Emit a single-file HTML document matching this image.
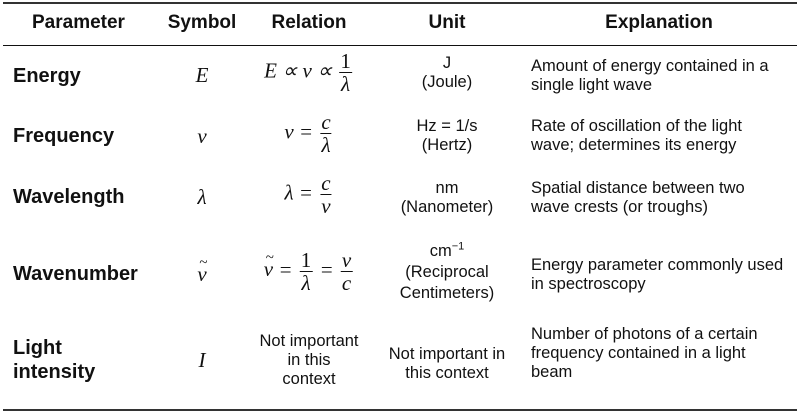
<!DOCTYPE html>
<html><head><meta charset="utf-8"><style>
body{margin:0;width:800px;height:413px;background:#fff;position:relative;font-family:"Liberation Sans",sans-serif;color:#111;overflow:hidden}
.a{position:absolute}
.h{font-weight:bold;font-size:19px;top:12px}
.p{font-weight:bold;font-size:20px;left:13px;line-height:24px}
.t{font-size:16.5px;line-height:19px}
.c{text-align:center;transform:translateX(-50%);white-space:nowrap}
.m{font-family:"Liberation Serif",serif;font-style:italic;font-size:21px;white-space:nowrap}
.f{display:inline-block;vertical-align:middle;text-align:center;margin:0 2px}
.f span{display:block;line-height:22px;padding:0 1px}
.f span:first-child{border-bottom:1.5px solid #111}
.n{font-style:normal}
.tl{position:relative;display:inline-block}
.tl:after{content:"~";position:absolute;left:2px;top:-7px;font-style:normal;font-size:15px}
.line{position:absolute;left:3px;width:794px;background:#333}
</style></head><body>
<div class="line" style="top:2px;height:2px"></div>
<div class="line" style="top:45px;height:1px;background:#111"></div>
<div class="line" style="top:409px;height:2px"></div>

<div class="a h" style="left:32px">Parameter</div>
<div class="a h c" style="left:202px">Symbol</div>
<div class="a h c" style="left:309px">Relation</div>
<div class="a h c" style="left:447px">Unit</div>
<div class="a h c" style="left:659px">Explanation</div>

<div class="a p" style="top:64px">Energy</div>
<div class="a p" style="top:124px">Frequency</div>
<div class="a p" style="top:185px">Wavelength</div>
<div class="a p" style="top:262px">Wavenumber</div>
<div class="a p" style="top:336px">Light<br>intensity</div>

<div class="a m c" style="left:202px;top:63px">E</div>
<div class="a m c" style="left:202px;top:124px">ν</div>
<div class="a m c" style="left:202px;top:185px">λ</div>
<div class="a m c" style="left:202px;top:262px"><span class="tl">ν</span></div>
<div class="a m c" style="left:202px;top:348px">I</div>

<div class="a m c" style="left:309px;top:50px">E ∝ ν ∝ <span class="f"><span class="n">1</span><span>λ</span></span></div>
<div class="a m c" style="left:309px;top:111px">ν = <span class="f"><span>c</span><span>λ</span></span></div>
<div class="a m c" style="left:309px;top:172px">λ = <span class="f"><span>c</span><span>ν</span></span></div>
<div class="a m c" style="left:309px;top:249px"><span class="tl">ν</span> = <span class="f"><span class="n">1</span><span>λ</span></span> = <span class="f"><span>ν</span><span>c</span></span></div>
<div class="a t c" style="left:309px;top:332px">Not important<br>in this<br>context</div>

<div class="a t c" style="left:447px;top:54px">J<br>(Joule)</div>
<div class="a t c" style="left:447px;top:117px">Hz = 1/s<br>(Hertz)</div>
<div class="a t c" style="left:447px;top:179px">nm<br>(Nanometer)</div>
<div class="a t c" style="left:447px;top:241px;line-height:21px">cm<sup style="font-size:11px;line-height:0">−1</sup><br>(Reciprocal<br>Centimeters)</div>
<div class="a t c" style="left:447px;top:345px">Not important in<br>this context</div>

<div class="a t" style="left:531px;top:57px">Amount of energy contained in a<br>single light wave</div>
<div class="a t" style="left:531px;top:117px">Rate of oscillation of the light<br>wave; determines its energy</div>
<div class="a t" style="left:531px;top:179px">Spatial distance between two<br>wave crests (or troughs)</div>
<div class="a t" style="left:531px;top:256px">Energy parameter commonly used<br>in spectroscopy</div>
<div class="a t" style="left:531px;top:325px">Number of photons of a certain<br>frequency contained in a light<br>beam</div>
</body></html>
